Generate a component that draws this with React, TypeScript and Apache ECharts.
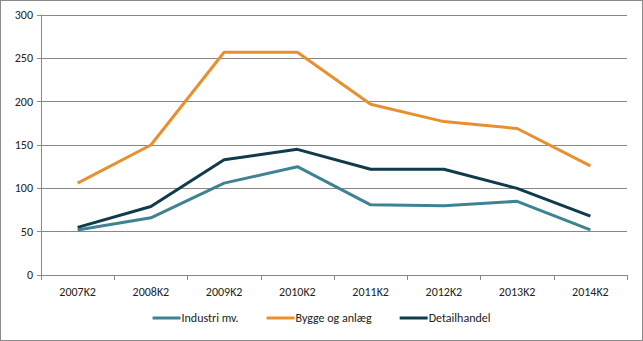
import React, { useEffect, useRef } from "react";
import * as echarts from "echarts";

const categories = ["2007K2", "2008K2", "2009K2", "2010K2", "2011K2", "2012K2", "2013K2", "2014K2"];
const industri = [52, 66, 106, 125, 81, 80, 85, 52];
const bygge = [106, 150, 257, 257, 197, 177, 169, 126];
const detail = [55, 79, 133, 145, 122, 122, 100, 68];
const seriesNames = ["Industri mv.", "Bygge og anlæg", "Detailhandel"];

export default function App() {
  const ref = useRef<HTMLDivElement>(null);
  useEffect(() => {
    if (!ref.current) return;
    const chart = echarts.init(ref.current, undefined, { renderer: "svg" });
    const font = "Carlito, 'Liberation Sans', Arial, sans-serif";
    const colors = ["#3F8393", "#E8902F", "#0F3C4A"];
    const datasets = [industri, bygge, detail];
    chart.setOption({
      animation: false,
      textStyle: { fontFamily: font },
      grid: { left: 41, right: 16, top: 15, bottom: 66, containLabel: false },
      legend: {
        bottom: 12,
        left: "center",
        itemWidth: 28,
        itemHeight: 3,
        itemGap: 28,
        icon: "rect",
        textStyle: { fontFamily: font, fontSize: 12, color: "#222", padding: [0, 0, 0, -4] },
        data: seriesNames,
      },
      xAxis: {
        type: "category",
        data: categories,
        boundaryGap: true,
        axisLine: { lineStyle: { color: "#888", width: 1 } },
        axisTick: { show: true, length: 5, lineStyle: { color: "#888" }, alignWithLabel: false },
        axisLabel: { color: "#222", fontSize: 12, margin: 11, fontFamily: font },
      },
      yAxis: {
        type: "value",
        min: 0,
        max: 300,
        interval: 50,
        axisLine: { show: true, lineStyle: { color: "#888", width: 1 } },
        axisTick: { show: true, length: 4, lineStyle: { color: "#888" } },
        axisLabel: { color: "#222", fontSize: 12, margin: 8, fontFamily: font },
        splitLine: { lineStyle: { color: "#888", width: 1 } },
      },
      series: datasets.map((d, i) => ({
        name: seriesNames[i],
        type: "line",
        data: d,
        symbol: "none",
        lineStyle: { width: 3, color: colors[i] },
        itemStyle: { color: colors[i] },
      })),
    });
    return () => chart.dispose();
  }, []);
  return (
    <div
      style={{
        position: "absolute",
        left: 0,
        top: 0,
        width: 643,
        height: 341,
        boxSizing: "border-box",
        border: "1px solid #8a8a8a",
        background: "#fff",
      }}
    >
      <div ref={ref} style={{ position: "absolute", left: -1, top: -1, width: 643, height: 341 }} />
    </div>
  );
}
